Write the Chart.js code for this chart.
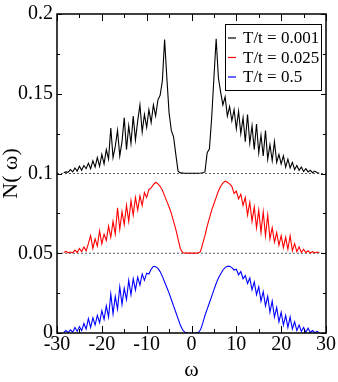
<!DOCTYPE html>
<html>
<head>
<meta charset="utf-8">
<script src="https://cdn.jsdelivr.net/npm/chart.js@4.4.1/dist/chart.umd.min.js"></script>
<style>
html,body{margin:0;padding:0;background:#fff;}
#wrap{width:338px;height:382px;}
</style>
</head>
<body>
<div id="wrap"><canvas id="c" width="338" height="382"></canvas></div>
<script>
const omega = [-28.5,-28,-27.5,-27,-26.5,-26,-25.5,-25,-24.5,-24,
-23.5,-23,-22.5,-22,-21.5,-21,-20.5,-20,-19.5,-19,
-18.5,-18,-17.5,-17,-16.5,-16,-15.5,-15,-14.5,-14,
-13.5,-13,-12.5,-12,-11.5,-11,-10.5,-10,-9.5,-9,
-8.5,-8,-7.5,-7,-6.5,-6,-5.5,-5,-4.5,-4,
-3.5,-3,-2.5,-2,-1.5,-1,-0.5,
0,
0.5,1,1.5,2,2.5,3,3.5,4,4.5,5,
5.5,6,6.5,7,7.5,8,8.5,9,9.5,10,
10.5,11,11.5,12,12.5,13,13.5,14,14.5,15,
15.5,16,16.5,17,17.5,18,18.5,19,19.5,20,
20.5,21,21.5,22,22.5,23,23.5,24,24.5,25,
25.5,26,26.5,27,27.5,28,28.5];

const seriesLabels = ['T/t = 0.001', 'T/t = 0.025', 'T/t = 0.5'];
const seriesColors = ['#000000', '#ff0000', '#0000ff'];

const nBlack = [0.1005,0.1010,0.1008,0.1025,0.1010,0.1035,0.1015,0.1045,0.1020,0.1050,
0.1030,0.1065,0.1030,0.1080,0.1040,0.1100,0.1045,0.1120,0.1060,0.1150,
0.1090,0.1285,0.1100,0.1170,0.1270,0.1110,0.1200,0.1350,0.1150,0.1300,
0.1190,0.1360,0.1210,0.1330,0.1430,0.1260,0.1370,0.1290,0.1400,0.1320,
0.1430,0.1360,0.1460,0.1490,0.1580,0.1840,0.1600,0.1380,0.1270,0.1230,
0.1120,0.1015,0.1004,0.1003,0.1002,0.1002,0.1002,
0.1002,
0.1002,0.1002,0.1002,0.1003,0.1005,0.1010,0.1130,0.1155,0.1350,0.1600,
0.1845,0.1600,0.1510,0.1430,0.1480,0.1360,0.1420,0.1330,0.1400,0.1280,
0.1390,0.1250,0.1350,0.1200,0.1370,0.1190,0.1300,0.1150,0.1310,0.1130,
0.1240,0.1110,0.1270,0.1090,0.1180,0.1080,0.1200,0.1070,0.1120,0.1060,
0.1110,0.1040,0.1090,0.1035,0.1070,0.1025,0.1050,0.1020,0.1040,0.1012,
0.1030,0.1010,0.1020,0.1005,0.1015,0.1005,0.1003];

const nRed = [0.0505,0.0512,0.0503,0.0508,0.0502,0.0520,0.0505,0.0530,0.0510,0.0540,
0.0515,0.0560,0.0610,0.0530,0.0590,0.0545,0.0640,0.0560,0.0620,0.0580,
0.0670,0.0600,0.0700,0.0620,0.0785,0.0650,0.0760,0.0680,0.0800,0.0700,
0.0830,0.0740,0.0850,0.0770,0.0860,0.0800,0.0880,0.0850,0.0900,0.0910,
0.0930,0.0945,0.0935,0.0920,0.0895,0.0860,0.0825,0.0790,0.0750,0.0700,
0.0650,0.0590,0.0530,0.0505,0.0502,0.0501,0.0501,
0.0501,
0.0501,0.0501,0.0502,0.0510,0.0560,0.0610,0.0670,0.0720,0.0770,0.0810,
0.0850,0.0890,0.0920,0.0940,0.0952,0.0945,0.0935,0.0920,0.0875,0.0890,
0.0840,0.0870,0.0800,0.0850,0.0740,0.0820,0.0700,0.0790,0.0660,0.0770,
0.0630,0.0760,0.0610,0.0740,0.0590,0.0660,0.0570,0.0630,0.0550,0.0610,
0.0535,0.0600,0.0525,0.0610,0.0515,0.0560,0.0510,0.0540,0.0505,0.0525,
0.0503,0.0515,0.0502,0.0510,0.0502,0.0508,0.0503];

const nBlue = [0.0003,0.0015,0.0002,0.0020,0.0005,0.0035,0.0010,0.0040,0.0015,0.0060,
0.0025,0.0090,0.0035,0.0095,0.0050,0.0110,0.0065,0.0140,0.0085,0.0170,
0.0100,0.0245,0.0120,0.0230,0.0150,0.0290,0.0180,0.0280,0.0210,0.0330,
0.0240,0.0340,0.0270,0.0350,0.0300,0.0370,0.0330,0.0375,0.0370,0.0400,
0.0418,0.0415,0.0405,0.0385,0.0355,0.0320,0.0285,0.0250,0.0210,0.0170,
0.0130,0.0090,0.0050,0.0020,0.0005,0.0001,0.0000,
0.0000,
0.0000,0.0001,0.0003,0.0020,0.0060,0.0110,0.0150,0.0190,0.0230,0.0270,
0.0310,0.0345,0.0370,0.0395,0.0410,0.0418,0.0418,0.0410,0.0395,0.0400,
0.0365,0.0385,0.0340,0.0360,0.0310,0.0345,0.0270,0.0320,0.0240,0.0290,
0.0200,0.0260,0.0170,0.0230,0.0130,0.0200,0.0100,0.0160,0.0070,0.0130,
0.0050,0.0110,0.0035,0.0100,0.0025,0.0070,0.0015,0.0050,0.0010,0.0035,
0.0005,0.0030,0.0003,0.0015,0.0002,0.0010,0.0002];

const refLevels = [0.1, 0.05];
const refRange = [-30, 30];

const xTickLabels = ['-30', '-20', '-10', '0', '10', '20', '30'];
const yTickLabels = ['0', '0.05', '0.1', '0.15', '0.2'];
const xTitle = 'ω';
const yTitle = 'N( ω)';

const FONT = "'Liberation Serif', 'Times New Roman', serif";

const seriesValues = [nBlack, nRed, nBlue];
const datasets = seriesValues.map((vals, i) => ({
  label: seriesLabels[i],
  data: omega.map((w, k) => ({x: w, y: vals[k]})),
  borderColor: seriesColors[i],
  borderWidth: 1.1,
  pointRadius: 0,
  tension: 0,
  fill: false
}));
refLevels.forEach(lv => {
  datasets.push({
    label: 'ref',
    data: refRange.map(w => ({x: w, y: lv})),
    borderColor: '#555555',
    borderWidth: 1,
    borderDash: [2, 2],
    pointRadius: 0,
    fill: false
  });
});

const framePlugin = {
  id: 'frame',
  afterDatasetsDraw(chart) {
    const {ctx, chartArea: a, scales} = chart;
    ctx.save();
    ctx.strokeStyle = '#000';
    ctx.lineWidth = 1.5;
    ctx.strokeRect(a.left, a.top, a.right - a.left, a.bottom - a.top);
    ctx.lineWidth = 1;
    const xs = scales.x, ys = scales.y;
    const xt = xs.ticks.map(t => t.value);
    const yt = ys.ticks.map(t => t.value);
    ctx.beginPath();
    xt.forEach((v, i) => {
      const px = Math.round(xs.getPixelForValue(v)) + 0.5;
      ctx.moveTo(px, a.bottom); ctx.lineTo(px, a.bottom - 7);
      ctx.moveTo(px, a.top); ctx.lineTo(px, a.top + 7);
      if (i < xt.length - 1) {
        const mx = Math.round(xs.getPixelForValue((v + xt[i + 1]) / 2)) + 0.5;
        ctx.moveTo(mx, a.bottom); ctx.lineTo(mx, a.bottom - 4);
        ctx.moveTo(mx, a.top); ctx.lineTo(mx, a.top + 4);
      }
    });
    yt.forEach((v, i) => {
      const py = Math.round(ys.getPixelForValue(v)) + 0.5;
      ctx.moveTo(a.left, py); ctx.lineTo(a.left + 5, py);
      ctx.moveTo(a.right, py); ctx.lineTo(a.right - 5, py);
      if (i < yt.length - 1) {
        const my = Math.round(ys.getPixelForValue((v + yt[i + 1]) / 2)) + 0.5;
        ctx.moveTo(a.left, my); ctx.lineTo(a.left + 3, my);
        ctx.moveTo(a.right, my); ctx.lineTo(a.right - 3, my);
      }
    });
    ctx.stroke();

    // legend
    const bx = a.right - 101, by = a.top + 10, bw = 96, bh = 66;
    ctx.fillStyle = '#fff';
    ctx.fillRect(bx, by, bw, bh);
    ctx.strokeStyle = '#000';
    ctx.lineWidth = 1;
    ctx.strokeRect(bx + 0.5, by + 0.5, bw, bh);
    ctx.font = '17px ' + FONT;
    ctx.textBaseline = 'middle';
    ctx.textAlign = 'left';
    seriesLabels.forEach((lab, i) => {
      const yy = by + 14 + i * 19.5;
      ctx.strokeStyle = seriesColors[i];
      ctx.lineWidth = 1.2;
      ctx.beginPath();
      ctx.moveTo(bx + 3, yy); ctx.lineTo(bx + 11, yy);
      ctx.stroke();
      ctx.fillStyle = '#000';
      ctx.fillText(lab, bx + 18, yy + 1);
    });

    // axis titles
    ctx.fillStyle = '#000';
    ctx.font = '22px ' + FONT;
    ctx.textAlign = 'center';
    ctx.textBaseline = 'middle';
    ctx.fillText(xTitle, (a.left + a.right) / 2, 370);
    ctx.save();
    ctx.translate(11, (a.top + a.bottom) / 2);
    ctx.rotate(-Math.PI / 2);
    ctx.fillText(yTitle, 0, 0);
    ctx.restore();
    ctx.restore();
  }
};

new Chart(document.getElementById('c'), {
  type: 'line',
  data: {datasets},
  options: {
    responsive: false,
    animation: false,
    devicePixelRatio: 1,
    layout: {padding: {top: 11, right: 11, left: 0, bottom: 0}},
    plugins: {legend: {display: false}, tooltip: {enabled: false}},
    scales: {
      x: {
        type: 'linear',
        min: -30, max: 30,
        ticks: {
          stepSize: 10,
          autoSkip: false,
          maxRotation: 0,
          padding: 2,
          color: '#000',
          font: {family: FONT, size: 20, lineHeight: 1},
          callback: (v, i) => xTickLabels[i]
        },
        grid: {display: false, drawTicks: false},
        border: {display: false},
        afterFit: s => { s.height = 49; }
      },
      y: {
        type: 'linear',
        min: 0, max: 0.2,
        ticks: {
          stepSize: 0.05,
          autoSkip: false,
          padding: 4,
          color: '#000',
          font: {family: FONT, size: 20, lineHeight: 1},
          callback: (v, i) => yTickLabels[i]
        },
        grid: {display: false, drawTicks: false},
        border: {display: false},
        afterFit: s => { s.width = 57; }
      }
    }
  },
  plugins: [framePlugin]
});
</script>
</body>
</html>
